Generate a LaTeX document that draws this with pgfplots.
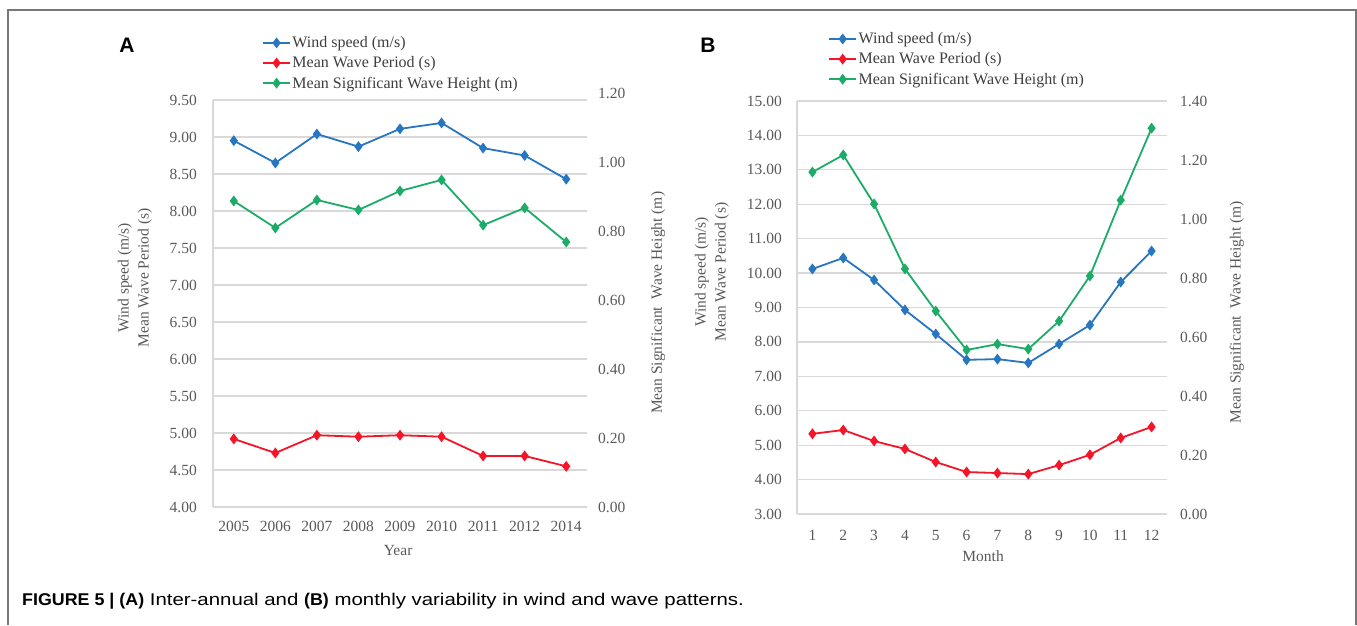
\documentclass[border=0pt]{standalone}
\usepackage{pgfplots}
\pgfplotsset{compat=1.18}
\usepackage{fontspec}
\setmainfont{Liberation Serif}
\newfontfamily\sansf{Liberation Sans}
\newfontfamily\capfont[FakeStretch=1.2, BoldFeatures={FakeStretch=1.05}]{Liberation Sans}

\definecolor{wblue}{RGB}{40,118,192}
\definecolor{wred}{RGB}{245,20,40}
\definecolor{wgreen}{RGB}{28,172,104}
\definecolor{gridgray}{RGB}{217,217,217}
\definecolor{txtgray}{RGB}{89,89,89}
\definecolor{framegray}{RGB}{120,120,120}

\pgfplotsset{
  panel/.style={
    scale only axis, clip=false,
    major tick length=0pt,
    tick label style={font=\fontsize{15.5}{18}\selectfont, text=txtgray, inner sep=0pt},
    label style={font=\fontsize{15.5}{20}\selectfont, text=txtgray},
    /pgf/number format/assume math mode=true,
    yticklabel style={/pgf/number format/fixed, /pgf/number format/fixed zerofill,
      /pgf/number format/precision=2},
  },
  wline/.style={#1, line width=1.8pt, mark=diamond*, mark size=4pt, mark options={solid}},
  legend image code/.code={\draw[mark repeat=2, mark phase=2, #1]
    plot coordinates {(0pt,0pt) (13.5pt,0pt) (27pt,0pt)};},
  mylegend/.style={legend style={draw=none, fill=none, at={#1}, anchor=north west,
    font=\fontsize{16}{17}\selectfont, text=txtgray!70!black, inner sep=0pt,
    row sep=4.5pt, nodes={inner sep=1.5pt}}, legend cell align=left},
}

\begin{document}
\begin{tikzpicture}
\path[use as bounding box] (0pt,0pt) rectangle (1357pt,625pt);
\draw[framegray, line width=1.2pt] (8pt,0pt) -- (8pt,615pt) -- (1356pt,615pt) -- (1356pt,0pt);

% ---------------- Panel A ----------------
\begin{axis}[panel, at={(213pt,118pt)}, anchor=south west, width=374pt, height=407pt,
  xmin=-0.5, xmax=8.5, ymin=4, ymax=9.5, ytick distance=0.5,
  xtick={0,...,8}, xticklabels={2005,2006,2007,2008,2009,2010,2011,2012,2014},
  axis x line*=bottom, axis y line*=left,
  axis line style={draw=gridgray, line width=1.2pt},
  ymajorgrids, grid style={gridgray, line width=1.2pt},
  xticklabel style={anchor=north, yshift=-14pt},
  yticklabel style={anchor=east, xshift=-16pt},
  xlabel={Year}, xlabel style={at={(axis description cs:0.495,-0.106)}, anchor=center},
  ylabel={Wind speed (m/s)\\Mean Wave Period (s)},
  ylabel style={align=center, at={(axis description cs:-0.209,0.563)}, anchor=center},
  mylegend={(axis description cs:0.131,1.16)}]
\addplot[wline=wblue] coordinates {(0,8.95) (1,8.65) (2,9.04) (3,8.87) (4,9.11) (5,9.19) (6,8.85) (7,8.75) (8,8.43)};
\addlegendentry{Wind speed (m/s)}
\addplot[wline=wred] coordinates {(0,4.92) (1,4.73) (2,4.97) (3,4.95) (4,4.97) (5,4.95) (6,4.69) (7,4.69) (8,4.55)};
\addlegendentry{Mean Wave Period (s)}
\addlegendimage{wline=wgreen}
\addlegendentry{Mean Significant Wave Height (m)}
\end{axis}
\begin{axis}[panel, at={(213pt,118pt)}, anchor=south west, width=374pt, height=414pt,
  xmin=-0.5, xmax=8.5, ymin=0, ymax=1.2, ytick distance=0.2,
  axis x line=none, axis y line*=right, y axis line style={draw=none},
  yticklabel style={anchor=west, xshift=11pt},
  ylabel={Mean Significant\enspace Wave Height (m)},
  ylabel style={at={(axis description cs:1.19,0.493)}, anchor=center}]
\addplot[wline=wgreen] coordinates {(0,0.887) (1,0.809) (2,0.890) (3,0.861) (4,0.916) (5,0.948) (6,0.817) (7,0.867) (8,0.768)};
\end{axis}

% ---------------- Panel B ----------------
\begin{axis}[panel, at={(797pt,111pt)}, anchor=south west, width=370pt, height=413pt,
  xmin=0.5, xmax=12.5, ymin=3, ymax=15, ytick distance=1,
  xtick={1,...,12},
  axis x line*=bottom, axis y line*=left,
  axis line style={draw=gridgray, line width=1.2pt},
  ymajorgrids, grid style={gridgray, line width=1.2pt},
  xticklabel style={anchor=north, yshift=-16pt},
  yticklabel style={anchor=east, xshift=-15pt},
  xlabel={Month}, xlabel style={at={(axis description cs:0.503,-0.102)}, anchor=center},
  ylabel={Wind speed (m/s)\\Mean Wave Period (s)},
  ylabel style={align=center, at={(axis description cs:-0.2297,0.586)}, anchor=center},
  mylegend={(axis description cs:0.084,1.1695)}]
\addplot[wline=wblue] coordinates {(1,10.12) (2,10.44) (3,9.80) (4,8.93) (5,8.23) (6,7.48) (7,7.50) (8,7.39) (9,7.94) (10,8.49) (11,9.74) (12,10.64)};
\addlegendentry{Wind speed (m/s)}
\addplot[wline=wred] coordinates {(1,5.33) (2,5.44) (3,5.12) (4,4.89) (5,4.51) (6,4.22) (7,4.19) (8,4.16) (9,4.42) (10,4.72) (11,5.21) (12,5.53)};
\addlegendentry{Mean Wave Period (s)}
\addlegendimage{wline=wgreen}
\addlegendentry{Mean Significant Wave Height (m)}
\end{axis}
\begin{axis}[panel, at={(797pt,111pt)}, anchor=south west, width=370pt, height=413pt,
  xmin=0.5, xmax=12.5, ymin=0, ymax=1.4, ytick distance=0.2,
  axis x line=none, axis y line*=right, y axis line style={draw=none},
  yticklabel style={anchor=west, xshift=13pt},
  ylabel={Mean Significant\enspace Wave Height (m)},
  ylabel style={at={(axis description cs:1.189,0.489)}, anchor=center}]
\addplot[wline=wgreen] coordinates {(1,1.159) (2,1.217) (3,1.051) (4,0.831) (5,0.688) (6,0.556) (7,0.576) (8,0.559) (9,0.654) (10,0.807) (11,1.064) (12,1.308)};
\end{axis}

\node[font=\sansf\bfseries\fontsize{21}{21}\selectfont] at (127pt,580pt) {A};
\node[font=\sansf\bfseries\fontsize{21}{21}\selectfont] at (708pt,580pt) {B};
\node[anchor=west, font=\capfont\fontsize{17}{19}\selectfont, inner sep=0pt] at (22pt,24pt)
  {\textbf{FIGURE 5 | (A)} Inter-annual and \textbf{(B)} monthly variability in wind and wave patterns.};
\end{tikzpicture}
\end{document}
